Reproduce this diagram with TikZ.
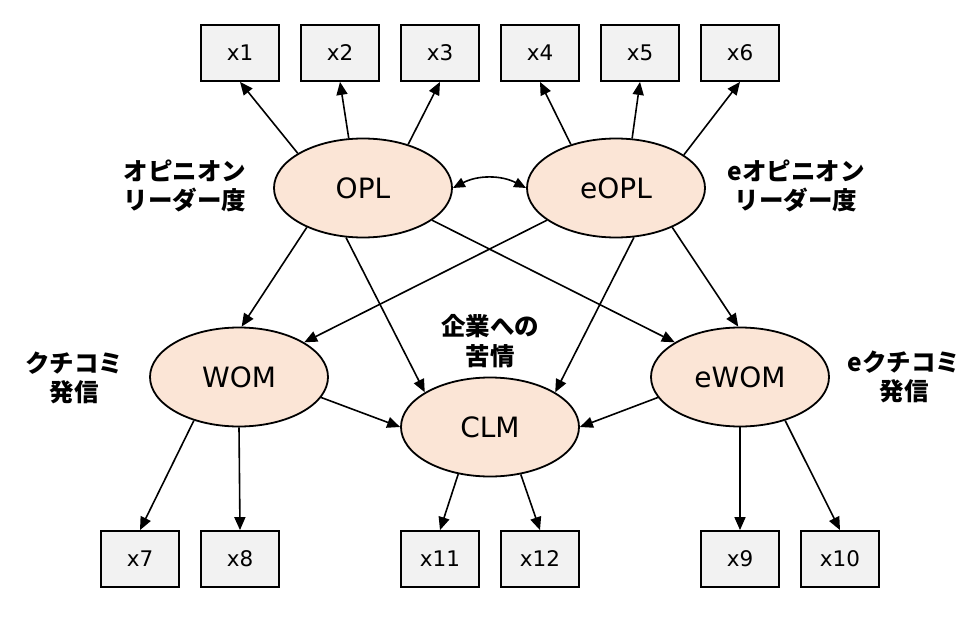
\documentclass[tikz,border=0pt]{standalone}
\usepackage{fontspec}
\setmainfont{DejaVu Sans}
\newfontfamily\jpfont{Noto Sans CJK JP}
\usetikzlibrary{arrows.meta,shapes.geometric}
\definecolor{boxgray}{HTML}{F2F2F2}
\definecolor{latfill}{HTML}{FBE5D6}
\begin{document}
\begin{tikzpicture}[x=1pt,y=-1pt,
  obs/.style={draw, line width=1.8pt, fill=boxgray, minimum width=78pt, minimum height=56pt, inner sep=0pt, font=\fontsize{21.5}{25}\selectfont},
  lat/.style={ellipse, draw, line width=1.8pt, fill=latfill, minimum width=178pt, minimum height=99pt, inner sep=0pt, font=\fontsize{28}{32}\selectfont},
  lbl/.style={align=center, inner sep=0pt, font=\jpfont\bfseries\fontsize{24.5}{29.5}\selectfont},
  arr/.style={line width=1.6pt, -{Triangle[length=13pt,width=11pt]}},
  dbl/.style={line width=1.6pt, {Triangle[length=12pt,width=10pt]}-{Triangle[length=12pt,width=10pt]}},
]
\useasboundingbox (0,0) rectangle (979,626);
% observed variables
\node[obs] (x1) at (240,53) {x1};
\node[obs] (x2) at (340,53) {x2};
\node[obs] (x3) at (440,53) {x3};
\node[obs] (x4) at (540,53) {x4};
\node[obs] (x5) at (640,53) {x5};
\node[obs] (x6) at (740,53) {x6};
\node[obs] (x7) at (140,559) {x7};
\node[obs] (x8) at (240,559) {x8};
\node[obs] (x11) at (440,559) {x11};
\node[obs] (x12) at (540,559) {x12};
\node[obs] (x9) at (740,559) {x9};
\node[obs] (x10) at (840,559) {x10};
% latent variables
\node[lat] (OPL) at (363,188) {OPL};
\node[lat] (eOPL) at (616,188) {eOPL};
\node[lat] (WOM) at (239,377) {WOM};
\node[lat] (CLM) at (490,427) {CLM};
\node[lat] (eWOM) at (740,377) {eWOM};
% labels
\node[lbl] (lOPL) at (185,186) {オピニオン\\リーダー度};
\node[lbl] (leOPL) at (796,186) {eオピニオン\\リーダー度};
\node[lbl] (lWOM) at (74,378) {クチコミ\\発信};
\node[lbl] (leWOM) at (904,377) {eクチコミ\\発信};
\node[lbl] (lCLM) at (490,341) {企業への\\苦情};
% loadings
\draw[arr] (OPL.152) -- (x1.south);
\draw[arr] (OPL.106) -- (x2.south);
\draw[arr] (OPL.44) -- (x3.south);
\draw[arr] (eOPL.136) -- (x4.south);
\draw[arr] (eOPL.72) -- (x5.south);
\draw[arr] (eOPL.26) -- (x6.south);
\draw[arr] (WOM.224) -- (x7.north);
\draw[arr] (WOM.270) -- (x8.north);
\draw[arr] (CLM.236) -- (x11.north);
\draw[arr] (CLM.303) -- (x12.north);
\draw[arr] (eWOM.270) -- (x9.north);
\draw[arr] (eWOM.316) -- (x10.north);
% structural paths
\draw[dbl] (OPL.east) .. controls +(25,-13) and +(-25,-13) .. (eOPL.west);
\draw[arr] (OPL.215) -- (WOM.87);
\draw[arr] (OPL.251) -- (CLM.152);
\draw[arr] (OPL.335) -- (eWOM.152);
\draw[arr] (eOPL.205) -- (WOM.28);
\draw[arr] (eOPL.290) -- (CLM.28);
\draw[arr] (eOPL.325) -- (eWOM.92);
\draw[arr] (WOM.346) -- (CLM.180);
\draw[arr] (eWOM.194) -- (CLM.0);
\end{tikzpicture}
\end{document}
